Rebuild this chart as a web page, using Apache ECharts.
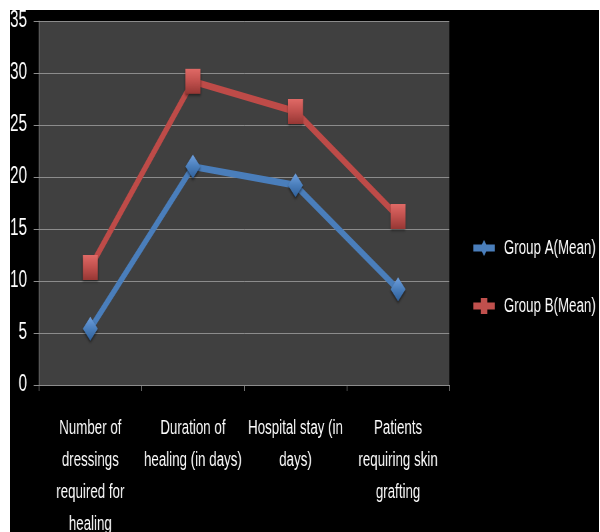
<!DOCTYPE html>
<html>
<head>
<meta charset="utf-8">
<script src="https://cdn.jsdelivr.net/npm/echarts@6/dist/echarts.min.js"></script>
<style>
html, body { margin: 0; padding: 0; background: #ffffff; width: 600px; height: 532px; overflow: hidden; }
#frame { position: absolute; left: 10px; top: 10px; width: 589px; height: 522px; overflow: hidden; background: #000; }
#chart { position: absolute; left: 0; top: 0; width: 884px; height: 522px; transform: scaleX(0.6667); transform-origin: 0 0; }
</style>
</head>
<body>
<div id="frame"><div id="chart"></div></div>
<script>
var categories = [
  'Number of\ndressings\nrequired for\nhealing',
  'Duration of\nhealing (in days)',
  'Hospital stay (in\ndays)',
  'Patients\nrequiring skin\ngrafting'
];
var groupA = [5.4, 21.0, 19.2, 9.2];
var groupB = [11.3, 29.2, 26.3, 16.2];
var yTicks = { min: 0, max: 35, interval: 5 };

var FONT = "'Liberation Sans', Arial, sans-serif";
var S = 1.5; // horizontal stretch compensated by CSS scaleX
var iconA = 'path://M0,4.5 L32,4.5 L32,11.5 L0,11.5 Z M16,0 L22,8 L16,16 L10,8 Z';
var iconB = 'path://M0,4.5 L32,4.5 L32,11.5 L0,11.5 Z M11,0 L21,0 L21,16 L11,16 Z';

function vGrad(top, mid, bottom) {
  return new echarts.graphic.LinearGradient(0, 0, 0, 1, [
    { offset: 0, color: top }, { offset: 0.5, color: mid }, { offset: 1, color: bottom }
  ]);
}

var chart = echarts.init(document.getElementById('chart'), null, { renderer: 'canvas' });
chart.setOption({
  backgroundColor: '#000000',
  animation: false,
  grid: {
    left: 29 * S, right: 150 * S, top: 11, bottom: 147,
    outerBoundsMode: 'none', containLabel: false,
    show: true, backgroundColor: '#404040', borderWidth: 0
  },
  legend: {
    orient: 'vertical',
    left: 460 * S, top: 223,
    itemWidth: 33 * S, itemHeight: 16, itemGap: 38,
    textStyle: { color: '#ffffff', fontSize: 20, fontFamily: FONT },
    data: [
      { name: 'Group A(Mean)', icon: iconA, itemStyle: { color: '#4A7EBB' } },
      { name: 'Group B(Mean)', icon: iconB, itemStyle: { color: '#C0504D' } }
    ]
  },
  xAxis: {
    type: 'category',
    data: categories,
    boundaryGap: true,
    axisLine: { show: true, lineStyle: { color: '#8c8c8c', width: 1 } },
    axisTick: { show: true, length: 6, lineStyle: { color: '#8c8c8c' } },
    axisLabel: {
      interval: 0, color: '#ffffff', fontSize: 20, fontFamily: FONT,
      lineHeight: 32, margin: 27, align: 'center'
    },
    splitLine: { show: false }
  },
  yAxis: {
    type: 'value',
    min: yTicks.min, max: yTicks.max, interval: yTicks.interval,
    axisLine: { show: true, lineStyle: { color: '#8c8c8c', width: 1 } },
    axisTick: { show: true, length: 8, lineStyle: { color: '#8c8c8c' } },
    axisLabel: { color: '#ffffff', fontSize: 23, fontFamily: FONT, margin: 18 },
    splitLine: { show: true, lineStyle: { color: '#8c8c8c', width: 1 } }
  },
  series: [
    {
      name: 'Group A(Mean)',
      type: 'line',
      data: groupA,
      symbol: 'diamond',
      symbolSize: [15 * S, 24],
      lineStyle: { color: '#4A7EBB', width: 7 },
      itemStyle: {
        color: vGrad('#6FA0DE', '#4A7EBB', '#2F5F99'),
        borderWidth: 0, shadowColor: 'rgba(0,0,0,0.5)', shadowBlur: 3, shadowOffsetY: 2
      },
      z: 3
    },
    {
      name: 'Group B(Mean)',
      type: 'line',
      data: groupB,
      symbol: 'rect',
      symbolSize: [15 * S, 25],
      lineStyle: { color: '#BE4B48', width: 7 },
      itemStyle: {
        color: vGrad('#E06A66', '#C0504D', '#963734'),
        borderWidth: 0, shadowColor: 'rgba(0,0,0,0.5)', shadowBlur: 3, shadowOffsetY: 2
      },
      z: 2
    }
  ]
});
</script>
</body>
</html>
